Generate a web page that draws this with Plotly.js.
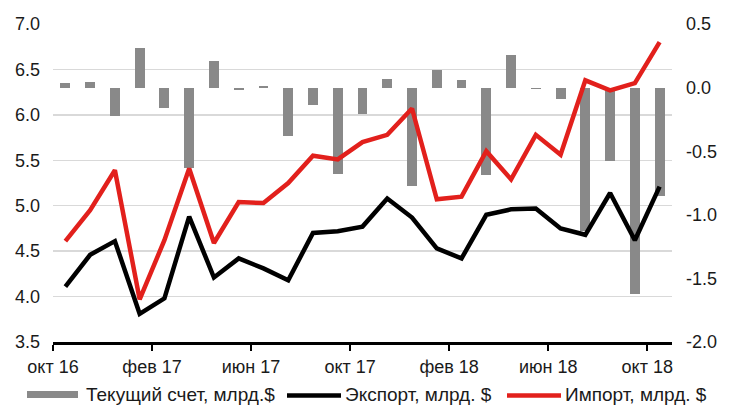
<!DOCTYPE html>
<html>
<head>
<meta charset="utf-8">
<script src="https://cdn.plot.ly/plotly-3.0.1.min.js"></script>
<style>html,body{margin:0;padding:0;background:#fff;}#chart{width:736px;height:410px;}</style>
</head>
<body>
<div id="chart"></div>
<script>
// Months Oct 2016 .. Oct 2018
const months = ["окт 16","ноя 16","дек 16","янв 17","фев 17","мар 17","апр 17","май 17","июн 17","июл 17","авг 17","сен 17","окт 17","ноя 17","дек 17","янв 18","фев 18","мар 18","апр 18","май 18","июн 18","июл 18","авг 18","сен 18","окт 18"];
const currentAccount = [0.04,0.045,-0.22,0.31,-0.16,-0.63,0.21,-0.02,0.01,-0.38,-0.14,-0.68,-0.21,0.07,-0.77,0.14,0.06,-0.69,0.26,-0.01,-0.09,-1.13,-0.58,-1.62,-0.85];
const exportVals = [4.11,4.46,4.61,3.81,3.98,4.88,4.21,4.42,4.31,4.18,4.70,4.72,4.77,5.08,4.87,4.53,4.42,4.90,4.96,4.97,4.75,4.68,5.14,4.62,5.21];
const importVals = [4.61,4.95,5.39,3.97,4.62,5.41,4.59,5.04,5.03,5.25,5.55,5.51,5.70,5.78,6.07,5.07,5.10,5.60,5.29,5.78,5.56,6.38,6.27,6.35,6.80];
const seriesNames = ["Текущий счет, млрд.$","Экспорт, млрд. $","Импорт, млрд. $"];
const seriesColors = ["#898989","#000000","#e2201c"];
const leftTicks = [3.5,4.0,4.5,5.0,5.5,6.0,6.5,7.0];
const leftTickText = ["3.5","4.0","4.5","5.0","5.5","6.0","6.5","7.0"];
const rightTicks = [-2.0,-1.5,-1.0,-0.5,0.0,0.5];
const rightTickText = ["-2.0","-1.5","-1.0","-0.5","0.0","0.5"];
const xLabelEvery = 4;

const W = 736, H = 410;
const M = {l:53, r:64, t:24, b:68};
const PW = W - M.l - M.r, PH = H - M.t - M.b;
const px2x = p => (p - M.l) / PW;
const px2y = p => (H - M.b - p) / PH;

const idx = months.map((m,i)=>i);
const xTickVals = [], xTickText = [];
for (let i=0;i<months.length;i+=xLabelEvery){ xTickVals.push(i-0.5); xTickText.push(months[i]); }

const FONT = "Liberation Sans, Arial, sans-serif";
const FS = 18;
const LFS = 19;
const traces = [
  {type:"bar", x:idx, y:currentAccount, name:seriesNames[0], yaxis:"y",
   marker:{color:seriesColors[0]}, width:0.4, showlegend:false},
  {type:"scatter", mode:"lines", x:idx, y:exportVals, name:seriesNames[1], yaxis:"y2",
   line:{color:seriesColors[1], width:4.5}, showlegend:false},
  {type:"scatter", mode:"lines", x:idx, y:importVals, name:seriesNames[2], yaxis:"y2",
   line:{color:seriesColors[2], width:4.5}, showlegend:false}
];

// Custom legend (symbols + labels) below the plot
const legendY = 394.5;
const legendItems = [
  {sym:[27,78], text:84, kind:"rect"},
  {sym:[287,341], text:343, kind:"line"},
  {sym:[507,561], text:563, kind:"line"}
];
const shapes = [], annotations = [];
legendItems.forEach((it,k)=>{
  if (it.kind === "rect") {
    shapes.push({type:"rect", xref:"paper", yref:"paper", x0:px2x(it.sym[0]), x1:px2x(it.sym[1]),
      y0:px2y(legendY+3.5), y1:px2y(legendY-3.5), fillcolor:seriesColors[k], line:{width:0}});
  } else {
    shapes.push({type:"line", xref:"paper", yref:"paper", x0:px2x(it.sym[0]), x1:px2x(it.sym[1]),
      y0:px2y(legendY+1), y1:px2y(legendY+1), line:{color:seriesColors[k], width:4.5}});
  }
  annotations.push({xref:"paper", yref:"paper", x:px2x(it.text), y:px2y(legendY), xanchor:"left", yanchor:"middle",
    text:seriesNames[k], showarrow:false, font:{family:FONT, size:LFS, color:"#1a1a1a"}});
});

const layout = {
  width:W, height:H,
  margin:M,
  paper_bgcolor:"#fff", plot_bgcolor:"#fff",
  font:{family:FONT, size:FS, color:"#1a1a1a"},
  showlegend:false,
  xaxis:{range:[-0.5, months.length-0.5], tickmode:"array", tickvals:xTickVals, ticktext:xTickText,
         ticklabelshift:12.4, ticks:"outside", ticklen:6, tickwidth:2, tickcolor:"#000",
         showline:true, linecolor:"#000", linewidth:3, showgrid:false, zeroline:false, fixedrange:true},
  yaxis:{side:"right", range:[-2.0,0.5], tickmode:"array", tickvals:rightTicks, ticktext:rightTickText,
         showgrid:false, zeroline:false, showline:false, ticks:"", ticklabelstandoff:13, fixedrange:true},
  yaxis2:{side:"left", overlaying:"y", range:[3.5,7.0], tickmode:"array", tickvals:leftTicks, ticktext:leftTickText,
          showgrid:true, gridcolor:"#d9d9d9", gridwidth:1.5, zeroline:false, showline:false, ticks:"", ticklabelstandoff:12, fixedrange:true},
  shapes:shapes,
  annotations:annotations,
  bargap:0
};
Plotly.newPlot("chart", traces, layout, {displayModeBar:false, staticPlot:true});
</script>
</body>
</html>
